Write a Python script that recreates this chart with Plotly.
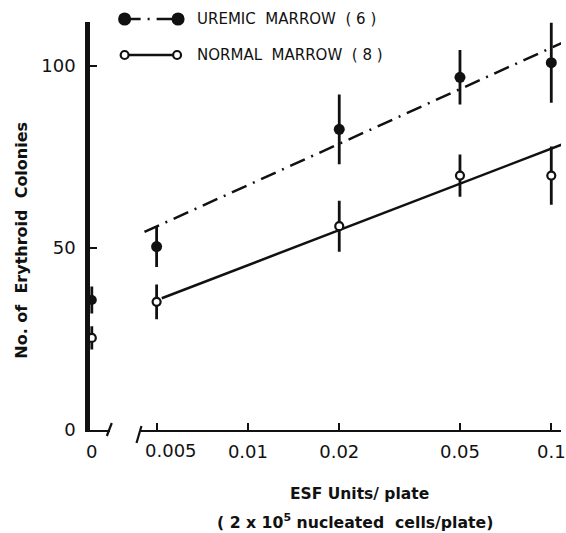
import math
import plotly.graph_objects as go

# ---- data ----
esf_doses = [0.005, 0.02, 0.05, 0.1]
uremic_mean = [50.4, 82.6, 96.9, 100.9]
uremic_err = [5.6, 9.6, 7.5, 11.0]
uremic_zero_mean = [35.7]
uremic_zero_err = [3.7]
normal_mean = [35.2, 56.0, 69.9, 69.9]
normal_err = [4.8, 7.0, 5.8, 8.0]
normal_zero_mean = [25.3]
normal_zero_err = [3.2]
uremic_fit_x = [0.00456, 0.115]
uremic_fit_y = [54.4, 107.3]
normal_fit_x = [0.0052, 0.115]
normal_fit_y = [36.2, 79.25]
x_tick_vals = [0.005, 0.01, 0.02, 0.05, 0.1]
x_tick_text = [" ", "0.01", "0.02", "0.05", "0.1"]
first_tick_label = "0.005"
y_tick_vals = [0, 50, 100]
y_tick_text = ["0", "50", "100"]

W, H = 566, 533
L, R, T, B = 90, 0, 22, 103
PW = W - L - R
PH = H - T - B

def px(x):
    return (x - L) / PW

def py(y):
    return (H - B - y) / PH

FONT = "DejaVu Sans"
BLACK = "#111111"
DASHDOT = "16px,7px,2px,7px"

fig = go.Figure()

# regression lines
fig.add_trace(go.Scatter(x=uremic_fit_x, y=uremic_fit_y, mode="lines", xaxis="x2", yaxis="y",
                         line=dict(color=BLACK, width=2.5, dash=DASHDOT), showlegend=False))
fig.add_trace(go.Scatter(x=normal_fit_x, y=normal_fit_y, mode="lines", xaxis="x2", yaxis="y",
                         line=dict(color=BLACK, width=2.5), showlegend=False))

# data points with error bars
fig.add_trace(go.Scatter(x=esf_doses, y=uremic_mean, mode="markers", xaxis="x2", yaxis="y",
                         error_y=dict(type="data", array=uremic_err, color=BLACK, thickness=2.8, width=0),
                         marker=dict(color=BLACK, size=11, symbol="circle"), cliponaxis=False, showlegend=False))
fig.add_trace(go.Scatter(x=esf_doses, y=normal_mean, mode="markers", xaxis="x2", yaxis="y",
                         error_y=dict(type="data", array=normal_err, color=BLACK, thickness=2.8, width=0),
                         marker=dict(color="white", size=8, symbol="circle", line=dict(color=BLACK, width=2.2)),
                         cliponaxis=False, showlegend=False))
fig.add_trace(go.Scatter(x=[0], y=uremic_zero_mean, mode="markers", xaxis="x", yaxis="y",
                         error_y=dict(type="data", array=uremic_zero_err, color=BLACK, thickness=2.8, width=0),
                         marker=dict(color=BLACK, size=10, symbol="circle"), cliponaxis=False, showlegend=False))
fig.add_trace(go.Scatter(x=[0], y=normal_zero_mean, mode="markers", xaxis="x", yaxis="y",
                         error_y=dict(type="data", array=normal_zero_err, color=BLACK, thickness=2.8, width=0),
                         marker=dict(color="white", size=8, symbol="circle", line=dict(color=BLACK, width=2.2)),
                         cliponaxis=False, showlegend=False))

shapes = []
# axis break marks
shapes.append(dict(type="line", xref="paper", yref="paper", x0=px(107), y0=py(436), x1=px(112), y1=py(423),
                   line=dict(color=BLACK, width=2.2)))
shapes.append(dict(type="line", xref="paper", yref="paper", x0=px(137), y0=py(443), x1=px(142), y1=py(426),
                   line=dict(color=BLACK, width=2.2)))
# legend samples
shapes.append(dict(type="line", xref="paper", yref="paper", x0=px(125), y0=py(19), x1=px(179), y1=py(19),
                   line=dict(color=BLACK, width=2.5, dash=DASHDOT)))
shapes.append(dict(type="line", xref="paper", yref="paper", x0=px(125), y0=py(55), x1=px(178), y1=py(55),
                   line=dict(color=BLACK, width=2.5)))
for cx, cy, filled, r in [(125, 19, True, 5.5), (179, 19, True, 5.5), (125, 55, False, 4), (178, 55, False, 4)]:
    shapes.append(dict(type="circle", xref="paper", yref="paper",
                       x0=px(cx - r), x1=px(cx + r), y0=py(cy + r), y1=py(cy - r),
                       fillcolor=BLACK if filled else "white", line=dict(color=BLACK, width=2.2)))

annotations = [
    dict(text="UREMIC  MARROW  ( 6 )", x=px(196), y=py(19), xref="paper", yref="paper",
         xanchor="left", yanchor="middle", showarrow=False, font=dict(family=FONT, size=15, color=BLACK)),
    dict(text="NORMAL  MARROW  ( 8 )", x=px(196), y=py(55), xref="paper", yref="paper",
         xanchor="left", yanchor="middle", showarrow=False, font=dict(family=FONT, size=15, color=BLACK)),
    dict(text=first_tick_label, x=math.log10(x_tick_vals[0]), xref="x2", xshift=14, y=py(450), yref="paper",
         xanchor="center", yanchor="middle", showarrow=False, font=dict(family=FONT, size=18, color=BLACK)),
    dict(text="<b>ESF Units/ plate</b>", x=px(362), y=py(494), xref="paper", yref="paper",
         xanchor="center", yanchor="middle", showarrow=False, font=dict(family=FONT, size=15.5, color=BLACK)),
    dict(text="<b>( 2 x 10<sup>5</sup> nucleated  cells/plate)</b>", x=px(358), y=py(521), xref="paper", yref="paper",
         xanchor="center", yanchor="middle", showarrow=False, font=dict(family=FONT, size=15.7, color=BLACK)),
    dict(text="<b>No. of  Erythroid  Colonies</b>", x=px(20), y=py(240), xref="paper", yref="paper",
         xanchor="center", yanchor="middle", textangle=-90, showarrow=False,
         font=dict(family=FONT, size=16, color=BLACK)),
]

fig.update_layout(
    width=W, height=H,
    margin=dict(l=L, r=R, t=T, b=B, pad=0),
    paper_bgcolor="white", plot_bgcolor="white",
    showlegend=False,
    xaxis=dict(domain=[0, px(110)], range=[-0.1, 1.0], anchor="y",
               showline=True, linecolor=BLACK, linewidth=2.2, showgrid=False, zeroline=False,
               tickmode="array", tickvals=[0], ticktext=["0"], ticks="", ticklabelstandoff=4,
               tickfont=dict(family=FONT, size=18, color=BLACK)),
    xaxis2=dict(domain=[px(142), 1], type="log", range=[-2.351, -0.968], anchor="y",
                showline=True, linecolor=BLACK, linewidth=2.2, showgrid=False, zeroline=False,
                tickmode="array", tickvals=x_tick_vals, ticktext=x_tick_text,
                ticks="inside", ticklen=7, tickwidth=2, tickcolor=BLACK, ticklabelstandoff=4,
                ticklabeloverflow="allow",
                tickfont=dict(family=FONT, size=18, color=BLACK)),
    yaxis=dict(domain=[0, 1], range=[0, (H - B - T) / 3.64], anchor="x",
               showline=True, linecolor=BLACK, linewidth=4.5, showgrid=False, zeroline=False,
               tickmode="array", tickvals=y_tick_vals, ticktext=y_tick_text,
               ticks="inside", ticklen=7, tickwidth=2, tickcolor=BLACK, ticklabelstandoff=6,
               tickfont=dict(family=FONT, size=18, color=BLACK)),
    shapes=shapes,
    annotations=annotations,
)

fig.write_html("out.html", config={"displayModeBar": False},
               post_script="document.body.style.margin='0';document.body.style.overflow='hidden';")
